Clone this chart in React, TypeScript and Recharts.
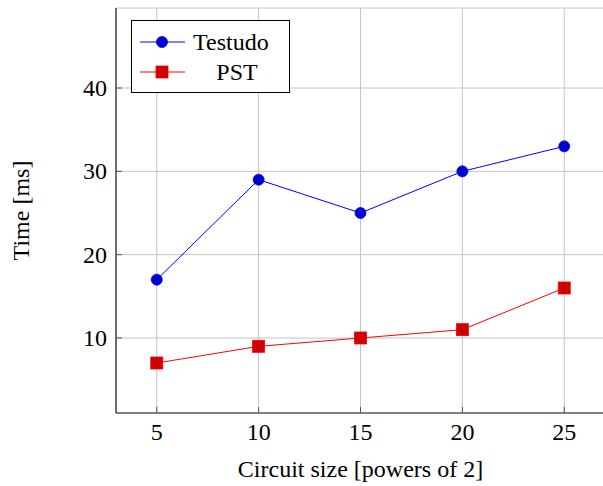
import React from 'react';
import { LineChart, Line, XAxis, YAxis, CartesianGrid, Legend } from 'recharts';

const circuitSizes = [5, 10, 15, 20, 25];
const testudoTimes = [17, 29, 25, 30, 33];
const pstTimes = [7, 9, 10, 11, 16];
const xTicks = [5, 10, 15, 20, 25];
const yTicks = [10, 20, 30, 40];

const data = circuitSizes.map((size, i) => ({
  size,
  testudo: testudoTimes[i],
  pst: pstTimes[i],
}));

const FONT = '"Liberation Serif", "DejaVu Serif", serif';
const FS = 24;
const TICK_COLOR = '#555';

const BottomTick = (props: any) => {
  const { x, y, payload } = props;
  return (
    <g>
      <line x1={x} y1={y} x2={x} y2={y - 6} stroke={TICK_COLOR} strokeWidth={1} />
      <text x={x} y={y + 27} textAnchor="middle" fontFamily={FONT} fontSize={FS} fill="#000">
        {payload.value}
      </text>
    </g>
  );
};

const TopTick = (props: any) => {
  const { x, y } = props;
  return <line x1={x} y1={y} x2={x} y2={y + 6} stroke={TICK_COLOR} strokeWidth={1} />;
};

const LeftTick = (props: any) => {
  const { x, y, payload } = props;
  return (
    <g>
      <line x1={x} y1={y} x2={x + 6} y2={y} stroke={TICK_COLOR} strokeWidth={1} />
      <text x={x - 9} y={y + 8} textAnchor="end" fontFamily={FONT} fontSize={FS} fill="#000">
        {payload.value}
      </text>
    </g>
  );
};

const renderLegend = () => (
  <svg width={160} height={74} style={{ display: 'block' }}>
    <rect x={0.5} y={0.5} width={158} height={72} fill="#fff" stroke="#000" strokeWidth={1} />
    <line x1={9} y1={22} x2={54} y2={22} stroke="#0000ff" strokeWidth={1} />
    <circle cx={31} cy={22} r={5.5} fill="#0000cc" stroke="#0000ff" strokeWidth={0.8} />
    <text x={62} y={30} fontFamily={FONT} fontSize={FS} fill="#000">Testudo</text>
    <line x1={9} y1={52} x2={54} y2={52} stroke="#ff0000" strokeWidth={1} />
    <rect x={25} y={46} width={12} height={12} fill="#cc0000" stroke="#ff0000" strokeWidth={0.8} />
    <text x={106} y={60} textAnchor="middle" fontFamily={FONT} fontSize={FS} fill="#000">PST</text>
  </svg>
);

const SquareDot = (props: any) => {
  const { cx, cy } = props;
  if (cx == null || cy == null) return null;
  return <rect x={cx - 6} y={cy - 6} width={12} height={12} fill="#cc0000" stroke="#ff0000" strokeWidth={0.8} />;
};

const CircleDot = (props: any) => {
  const { cx, cy } = props;
  if (cx == null || cy == null) return null;
  return <circle cx={cx} cy={cy} r={5.5} fill="#0000cc" stroke="#0000ff" strokeWidth={0.8} />;
};

export default function App() {
  return (
    <div style={{ position: 'absolute', left: 0, top: 0, width: 603, height: 486, overflow: 'hidden', background: '#fff' }}>
      <LineChart width={606} height={486} data={data} margin={{ top: 8, right: 1, bottom: 0, left: 0 }}>
        <CartesianGrid stroke="#c4c4c4" strokeWidth={1} />
        <XAxis
          dataKey="size"
          type="number"
          domain={[3, 27]}
          ticks={xTicks}
          allowDataOverflow
          height={73}
          tickSize={0}
          tickMargin={0}
          tickLine={false}
          tick={<BottomTick />}
          axisLine={{ stroke: '#222', strokeWidth: 1.2 }}
          label={{
            value: 'Circuit size [powers of 2]',
            position: 'insideBottom',
            offset: 9,
            style: { fontFamily: FONT, fontSize: FS, fill: '#000' },
          }}
        />
        <XAxis
          xAxisId="top"
          orientation="top"
          dataKey="size"
          type="number"
          domain={[3, 27]}
          ticks={xTicks}
          allowDataOverflow
          height={0}
          tickSize={0}
          tickMargin={0}
          tickLine={false}
          tick={<TopTick />}
          axisLine={{ stroke: '#222', strokeWidth: 1.2 }}
        />
        <YAxis
          type="number"
          domain={[1, 49.6]}
          ticks={yTicks}
          allowDataOverflow
          width={116}
          tickSize={0}
          tickMargin={0}
          tickLine={false}
          tick={<LeftTick />}
          axisLine={{ stroke: '#222', strokeWidth: 1.2 }}
          label={{
            value: 'Time [ms]',
            angle: -90,
            position: 'insideLeft',
            offset: 20,
            style: { fontFamily: FONT, fontSize: FS, fill: '#000', textAnchor: 'middle' },
          }}
        />
        <Legend
          content={renderLegend}
          layout="horizontal"
          verticalAlign="middle"
          align="center"
          wrapperStyle={{ left: 131, top: 20, width: 160, height: 74 }}
        />
        <Line
          type="linear"
          dataKey="testudo"
          stroke="#0000ff"
          strokeWidth={1}
          dot={<CircleDot />}
          activeDot={false}
          isAnimationActive={false}
        />
        <Line
          type="linear"
          dataKey="pst"
          stroke="#ff0000"
          strokeWidth={1}
          dot={<SquareDot />}
          activeDot={false}
          isAnimationActive={false}
        />
      </LineChart>
    </div>
  );
}
